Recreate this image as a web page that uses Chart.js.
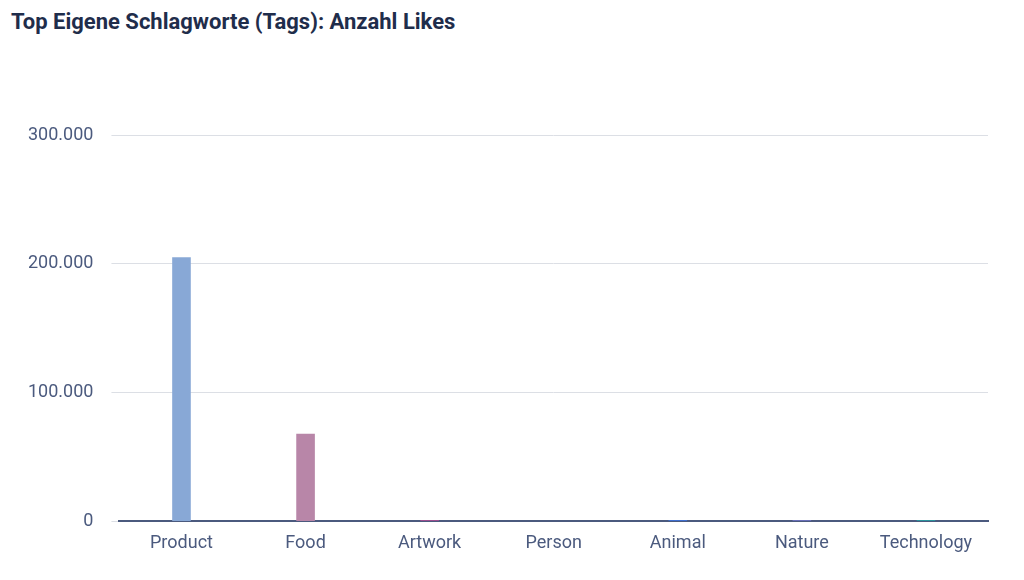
<!DOCTYPE html><html><head><meta charset="utf-8"><script src="https://cdn.jsdelivr.net/npm/chart.js"></script>
<style>body{margin:0;background:#fff}#w{position:relative;width:1024px;height:580px}h1{position:absolute;left:11px;top:9px;margin:0;font:bold 22px Roboto,sans-serif;color:#1f2d4b}#c{position:absolute;left:0;top:0}</style></head><body><div id="w"><h1>Top Eigene Schlagworte (Tags): Anzahl Likes</h1><canvas id="c" width="1024" height="580"></canvas></div>
<script>
const categories=["Product","Food","Artwork","Person","Animal","Nature","Technology"];
const likes=[205000,68000,1000,400,1000,800,900];
const colors=["#88a8d6","#b886a8","#9c4f8e","#d4a6b8","#3f6fd0","#7477cc","#22a8a8"];
const ticks=[0,100000,200000,300000];
new Chart(document.getElementById('c'),{type:'bar',data:{labels:categories,datasets:[{data:likes,backgroundColor:colors,barPercentage:0.15,categoryPercentage:1}]},
options:{responsive:false,animation:false,layout:{padding:{top:135,right:36,left:10,bottom:23}},plugins:{legend:{display:false},tooltip:{enabled:false}},
scales:{x:{grid:{display:false},border:{color:'#4b5a7e',width:2},ticks:{color:'#4b5a7e',font:{family:'Roboto',size:18}}},
y:{min:0,max:300000,afterBuildTicks:a=>{a.ticks=ticks.map(v=>({value:v}))},border:{display:false},grid:{color:'#dcdfe5'},ticks:{color:'#4b5a7e',padding:18,font:{family:'Roboto',size:18},callback:v=>v.toLocaleString('de-DE')}}}}});
</script></body></html>
